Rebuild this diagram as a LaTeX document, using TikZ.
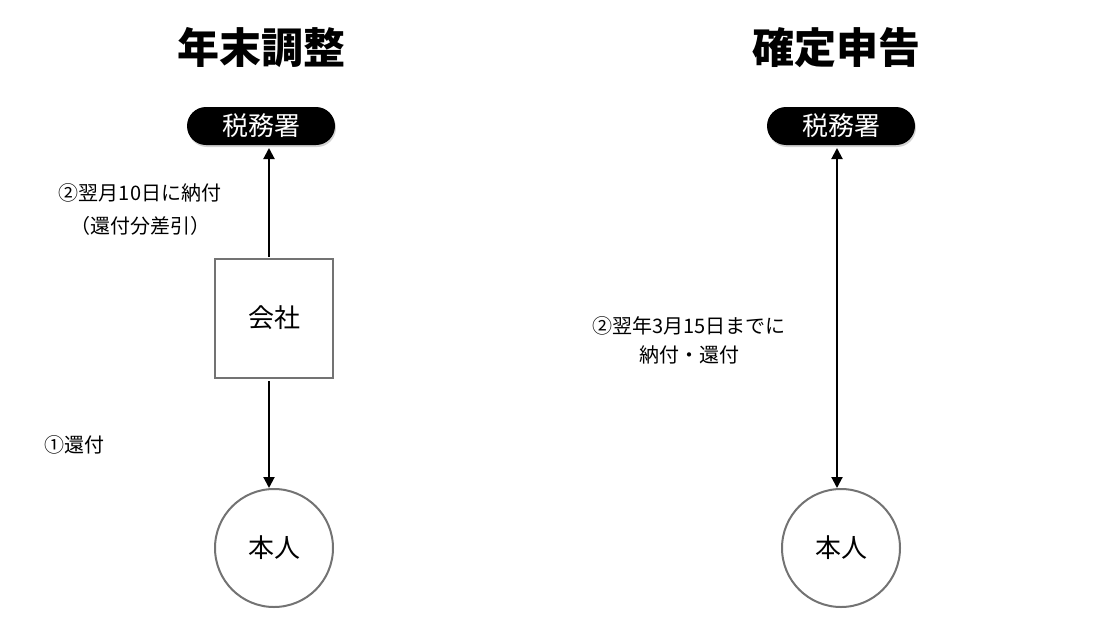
\documentclass[tikz,border=0pt]{standalone}
\usepackage{fontspec}
\setmainfont{Noto Sans CJK JP}
\usetikzlibrary{arrows.meta,shadows}
\tikzset{
  title/.style={font=\fontsize{42}{46}\selectfont\bfseries},
  office/.style={rounded corners=19pt, fill=black, text=white, minimum width=148pt, minimum height=38pt, inner sep=0pt, font=\fontsize{26}{28}\selectfont, drop shadow={shadow xshift=1pt, shadow yshift=-2pt, opacity=0.35}},
  company/.style={draw=black!55, line width=2pt, minimum width=118pt, minimum height=119pt, inner sep=0pt, font=\fontsize{26}{28}\selectfont},
  person/.style={circle, draw=black!55, line width=2pt, minimum size=118pt, inner sep=0pt, font=\fontsize{26}{28}\selectfont},
  lbl/.style={font=\fontsize{20}{24}\selectfont, align=center, inner sep=0pt},
  tip/.style={Triangle[length=11pt,width=11pt]},
  conn/.style={line width=2pt, -{Triangle[length=11pt,width=11pt]}},
}
\begin{document}
\begin{tikzpicture}[x=1pt,y=-1pt]
\useasboundingbox (0,0) rectangle (1098,632);
% left
\node[title] (t1) at (261,48) {年末調整};
\node[office] (z1) at (261,126) {税務署};
\node[company] (c1) at (274,318) {会社};
\node[person] (p1) at (274,548) {本人};
\coordinate (a1s) at (269,257);
\coordinate (a1e) at (269,148);
\coordinate (a2s) at (269,381);
\coordinate (a2e) at (269,488);
\draw[conn] (a1s) -- (a1e);
\draw[conn] (a2s) -- (a2e);
\node[lbl] (l1a) at (140,193) {②翌月10日に納付};
\node[lbl] (l1b) at (140,226) {（還付分差引）};
\node[lbl, anchor=west] (l2) at (44,445) {①還付};
% right
\node[title] (t2) at (836,48) {確定申告};
\node[office] (z2) at (841,126) {税務署};
\node[person] (p2) at (841,548) {本人};
\coordinate (b1s) at (837,148);
\coordinate (b1e) at (837,488);
\draw[line width=2pt, {Triangle[length=11pt,width=11pt]}-{Triangle[length=11pt,width=11pt]}] (b1s) -- (b1e);
\node[lbl] (l3a) at (689,326) {②翌年3月15日までに};
\node[lbl] (l3b) at (689,355) {納付・還付};
\end{tikzpicture}
\end{document}
